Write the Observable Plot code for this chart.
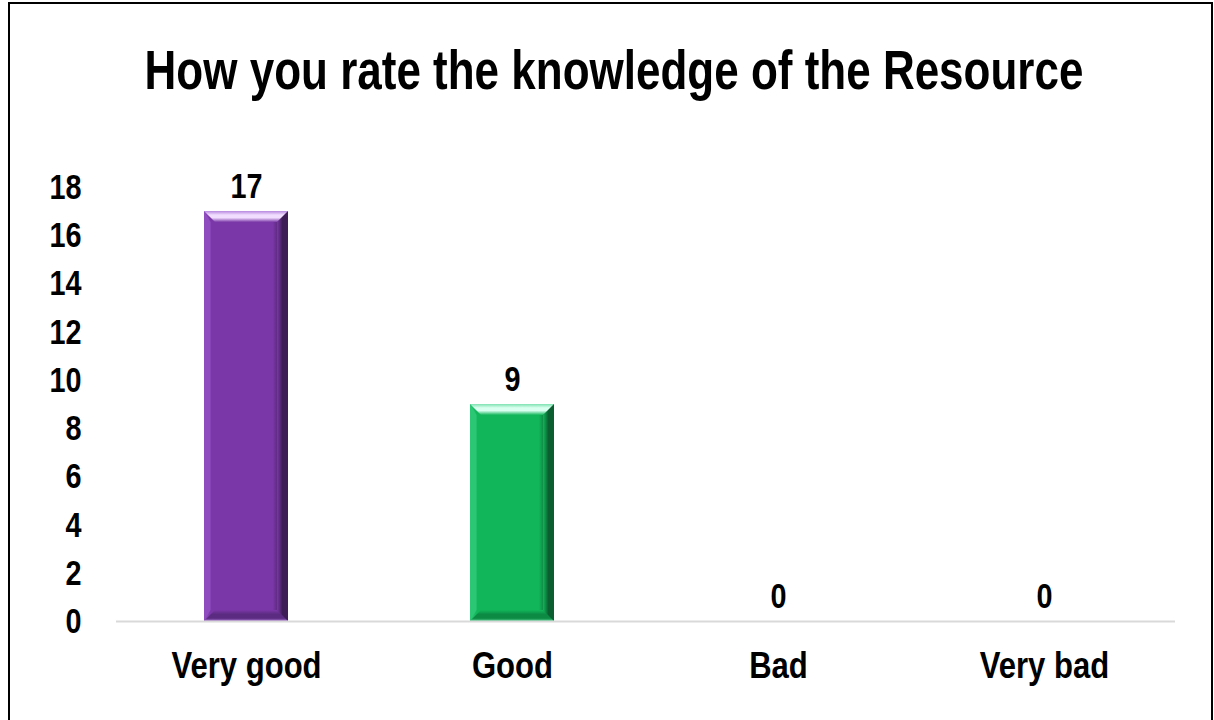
<!DOCTYPE html>
<html>
<head>
<meta charset="utf-8">
<script src="https://cdn.jsdelivr.net/npm/d3@7"></script>
<script src="https://cdn.jsdelivr.net/npm/@observablehq/plot@0.6"></script>
<style>
  html, body { margin: 0; padding: 0; background: #fff; width: 1214px; height: 720px; overflow: hidden; }
  body { position: relative; font-family: "Liberation Sans", Arial, sans-serif; }
  #frame { position: absolute; left: 8px; top: 2px; width: 1205px; height: 760px; border: 2px solid #000; box-sizing: border-box; }
  #title { position: absolute; left: 0; width: 1228px; top: 40px; text-align: center; font-weight: bold; font-size: 55px; color: #000; line-height: 60px; white-space: nowrap; transform: scaleX(0.8); transform-origin: 614px 0; }
  #chart { position: absolute; left: 0; top: 0; }
</style>
</head>
<body>
<div id="frame"></div>
<div id="title">How you rate the knowledge of the Resource</div>
<div id="chart"></div>
<script>
const categories = ["Very good", "Good", "Bad", "Very bad"];
const counts = [17, 9, 0, 0];
const yTicks = [0, 2, 4, 6, 8, 10, 12, 14, 16, 18];
const barColors = ["purple", "green", "none", "none"];

const data = categories.map((c, i) => ({cat: c, value: counts[i], col: barColors[i]}));
const barData = data.filter(d => d.value > 0);
const FONT = '"Liberation Sans", Arial, sans-serif';

const chart = Plot.plot({
  width: 1214,
  height: 720,
  marginLeft: 116,
  marginRight: 39,
  marginTop: 187,
  marginBottom: 99,
  style: {fontFamily: FONT, background: "transparent", overflow: "visible"},
  x: {domain: categories, paddingInner: 0.683, paddingOuter: 0.33, axis: null},
  y: {domain: [0, 18], axis: null},
  color: {type: "identity"},
  marks: [
    Plot.axisY({ticks: yTicks, tickSize: 0, tickPadding: 35, fontSize: 36, fontWeight: "bold", fill: "#000", label: null, tickFormat: d => String(d)}),
    Plot.barY(barData, {x: "cat", y: "value", fill: d => `url(#grad-${d.col})`}),
    Plot.ruleY([0], {stroke: "#d9d9d9", strokeWidth: 2}),
    Plot.text(data, {x: "cat", y: "value", text: d => String(d.value), dy: -25, fontSize: 36, fontWeight: "bold", fill: "#000"}),
    Plot.text(data, {x: "cat", y: 0, text: "cat", dy: 45, fontSize: 37, fontWeight: "bold", fill: "#000", className: "catlabel"})
  ]
});

// narrow the text horizontally to imitate a condensed face
chart.querySelectorAll("text").forEach(el => {
  const k = el.closest(".catlabel") ? 0.84 : 0.8;
  const t = el.getAttribute("transform");
  if (t && t.includes("translate")) {
    el.setAttribute("transform", t + ` scale(${k},1)`);
  } else {
    const x = +(el.getAttribute("x") || 0);
    el.setAttribute("transform", `translate(${x},0) scale(${k},1) translate(${-x},0)`);
  }
});

// gradient defs + bevels
const ns = "http://www.w3.org/2000/svg";
const defs = document.createElementNS(ns, "defs");
const palettes = {
  purple: {left: "#8e4cbf", main: "#7a37a7", right: "#3e1d57", top: "#b98ae0", topHi: "#f1ddff", bottom: "#5a2b80", bottomHi: "#a674d0"},
  green: {left: "#2bc774", main: "#12b65a", right: "#0a5e2f", top: "#7fe2b0", topHi: "#d9fff0", bottom: "#0c8a44", bottomHi: "#52cf8c"}
};
function grad(id, vertical, stops) {
  const g = document.createElementNS(ns, "linearGradient");
  g.setAttribute("id", id);
  g.setAttribute("x1", "0"); g.setAttribute("y1", "0");
  g.setAttribute("x2", vertical ? "0" : "1"); g.setAttribute("y2", vertical ? "1" : "0");
  stops.forEach(([o, c]) => {
    const s = document.createElementNS(ns, "stop");
    s.setAttribute("offset", o); s.setAttribute("stop-color", c);
    g.appendChild(s);
  });
  defs.appendChild(g);
}
for (const [name, p] of Object.entries(palettes)) {
  grad(`grad-${name}`, false, [[0, p.left], [0.08, p.main], [0.82, p.main], [0.93, p.right], [1, p.right]]);
  grad(`top-${name}`, true, [[0, p.top], [0.35, p.topHi], [0.6, p.topHi], [1, p.main]]);
  grad(`bot-${name}`, true, [[0, p.main], [0.4, p.bottom], [0.75, p.bottom], [1, p.bottomHi]]);
  grad(`right-${name}`, false, [[0, p.main], [0.5, p.right], [1, p.right]]);
}
chart.insertBefore(defs, chart.firstChild);

const bev = 11;
chart.querySelectorAll('g[aria-label="bar"] rect').forEach(r => {
  const fill = r.getAttribute("fill") || "";
  const m = fill.match(/grad-(\w+)/);
  if (!m) return;
  const name = m[1];
  const x = +r.getAttribute("x"), y = +r.getAttribute("y"), w = +r.getAttribute("width"), h = +r.getAttribute("height");
  const p = palettes[name];
  const poly = (pts, f) => {
    const e = document.createElementNS(ns, "polygon");
    e.setAttribute("points", pts.map(q => q.join(",")).join(" "));
    e.setAttribute("fill", f);
    r.parentNode.appendChild(e);
  };
  poly([[x + w - bev, y + bev], [x + w, y], [x + w, y + h], [x + w - bev, y + h - bev]], `url(#right-${name})`);
  poly([[x, y], [x + bev * 0.6, y + bev], [x + bev * 0.6, y + h - bev], [x, y + h]], p.left);
  poly([[x, y], [x + w, y], [x + w - bev, y + bev], [x + bev, y + bev]], `url(#top-${name})`);
  poly([[x + bev, y + h - bev], [x + w - bev, y + h - bev], [x + w, y + h], [x, y + h]], `url(#bot-${name})`);
});

document.getElementById("chart").appendChild(chart);
</script>
</body>
</html>
